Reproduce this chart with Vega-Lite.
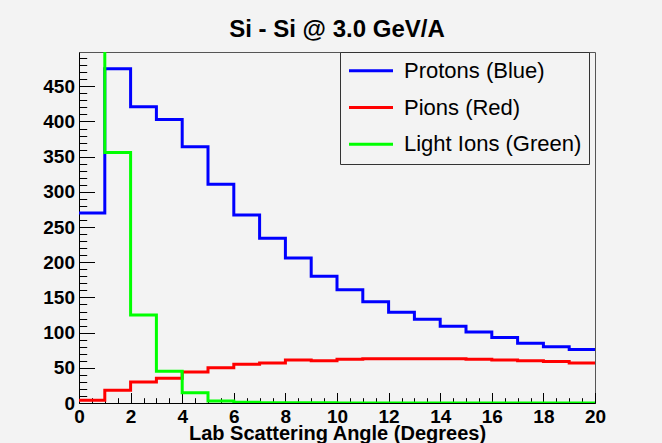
{
  "$schema": "https://vega.github.io/schema/vega-lite/v6.json",
  "width": 516,
  "height": 351,
  "autosize": {"type": "none"},
  "padding": {"left": 79, "top": 52, "right": 67, "bottom": 40},
  "background": "#f3f3f3",
  "title": {
    "text": "Si - Si @ 3.0 GeV/A",
    "font": "Liberation Sans",
    "fontSize": 24,
    "fontWeight": "bold",
    "color": "black",
    "anchor": "middle",
    "offset": 7
  },
  "config": {
    "view": {"stroke": "#555555", "strokeWidth": 1, "fill": "#f3f3f3"}
  },
  "data": {
    "values": [
      {"angle": 0, "count": 270, "species": "Protons (Blue)"},
      {"angle": 1, "count": 475, "species": "Protons (Blue)"},
      {"angle": 2, "count": 421, "species": "Protons (Blue)"},
      {"angle": 3, "count": 403, "species": "Protons (Blue)"},
      {"angle": 4, "count": 364, "species": "Protons (Blue)"},
      {"angle": 5, "count": 311, "species": "Protons (Blue)"},
      {"angle": 6, "count": 267, "species": "Protons (Blue)"},
      {"angle": 7, "count": 234, "species": "Protons (Blue)"},
      {"angle": 8, "count": 206, "species": "Protons (Blue)"},
      {"angle": 9, "count": 180, "species": "Protons (Blue)"},
      {"angle": 10, "count": 161, "species": "Protons (Blue)"},
      {"angle": 11, "count": 144, "species": "Protons (Blue)"},
      {"angle": 12, "count": 129, "species": "Protons (Blue)"},
      {"angle": 13, "count": 119, "species": "Protons (Blue)"},
      {"angle": 14, "count": 109, "species": "Protons (Blue)"},
      {"angle": 15, "count": 101, "species": "Protons (Blue)"},
      {"angle": 16, "count": 93, "species": "Protons (Blue)"},
      {"angle": 17, "count": 85, "species": "Protons (Blue)"},
      {"angle": 18, "count": 80, "species": "Protons (Blue)"},
      {"angle": 19, "count": 76, "species": "Protons (Blue)"},
      {"angle": 20, "count": 76, "species": "Protons (Blue)"},
      {"angle": 0, "count": 4, "species": "Pions (Red)"},
      {"angle": 1, "count": 18, "species": "Pions (Red)"},
      {"angle": 2, "count": 30, "species": "Pions (Red)"},
      {"angle": 3, "count": 35, "species": "Pions (Red)"},
      {"angle": 4, "count": 44, "species": "Pions (Red)"},
      {"angle": 5, "count": 50, "species": "Pions (Red)"},
      {"angle": 6, "count": 55, "species": "Pions (Red)"},
      {"angle": 7, "count": 57, "species": "Pions (Red)"},
      {"angle": 8, "count": 61, "species": "Pions (Red)"},
      {"angle": 9, "count": 60, "species": "Pions (Red)"},
      {"angle": 10, "count": 62, "species": "Pions (Red)"},
      {"angle": 11, "count": 63, "species": "Pions (Red)"},
      {"angle": 12, "count": 63, "species": "Pions (Red)"},
      {"angle": 13, "count": 63, "species": "Pions (Red)"},
      {"angle": 14, "count": 63, "species": "Pions (Red)"},
      {"angle": 15, "count": 62, "species": "Pions (Red)"},
      {"angle": 16, "count": 61, "species": "Pions (Red)"},
      {"angle": 17, "count": 60, "species": "Pions (Red)"},
      {"angle": 18, "count": 59, "species": "Pions (Red)"},
      {"angle": 19, "count": 57, "species": "Pions (Red)"},
      {"angle": 20, "count": 57, "species": "Pions (Red)"},
      {"angle": 0, "count": 1300, "species": "Light Ions (Green)"},
      {"angle": 1, "count": 356, "species": "Light Ions (Green)"},
      {"angle": 2, "count": 125, "species": "Light Ions (Green)"},
      {"angle": 3, "count": 45, "species": "Light Ions (Green)"},
      {"angle": 4, "count": 14.6, "species": "Light Ions (Green)"},
      {"angle": 5, "count": 2.7, "species": "Light Ions (Green)"},
      {"angle": 6, "count": 1, "species": "Light Ions (Green)"},
      {"angle": 7, "count": 0.5, "species": "Light Ions (Green)"},
      {"angle": 8, "count": 0.3, "species": "Light Ions (Green)"},
      {"angle": 9, "count": 0.2, "species": "Light Ions (Green)"},
      {"angle": 10, "count": 0.1, "species": "Light Ions (Green)"},
      {"angle": 11, "count": 0, "species": "Light Ions (Green)"},
      {"angle": 12, "count": 0, "species": "Light Ions (Green)"},
      {"angle": 13, "count": 0, "species": "Light Ions (Green)"},
      {"angle": 14, "count": 0, "species": "Light Ions (Green)"},
      {"angle": 15, "count": 0, "species": "Light Ions (Green)"},
      {"angle": 16, "count": 0, "species": "Light Ions (Green)"},
      {"angle": 17, "count": 0, "species": "Light Ions (Green)"},
      {"angle": 18, "count": 0, "species": "Light Ions (Green)"},
      {"angle": 19, "count": 0, "species": "Light Ions (Green)"},
      {"angle": 20, "count": 0, "species": "Light Ions (Green)"}
    ]
  },
  "mark": {"type": "line", "interpolate": "step-after", "strokeWidth": 3, "clip": true},
  "encoding": {
    "x": {
      "field": "angle",
      "type": "quantitative",
      "scale": {"domain": [0, 20], "nice": false, "zero": false},
      "axis": {
        "title": "Lab Scattering Angle (Degrees)",
        "titleFont": "Liberation Sans",
        "titleFontSize": 20,
        "titleFontWeight": "bold",
        "titleColor": "black",
        "titlePadding": -3,
        "values": [0, 0.5, 1, 1.5, 2, 2.5, 3, 3.5, 4, 4.5, 5, 5.5, 6, 6.5, 7, 7.5, 8, 8.5, 9, 9.5, 10, 10.5, 11, 11.5, 12, 12.5, 13, 13.5, 14, 14.5, 15, 15.5, 16, 16.5, 17, 17.5, 18, 18.5, 19, 19.5, 20],
        "labelExpr": "datum.value % 2 === 0 ? format(datum.value, 'd') : ''",
        "labelFont": "Liberation Sans",
        "labelFontSize": 19,
        "labelFontWeight": "bold",
        "labelColor": "black",
        "labelFlush": false,
        "labelOverlap": false,
        "labelPadding": 15,
        "tickSize": -10.5,
        "tickDash": {"condition": {"test": "datum.value % 2 === 0", "value": [20, 0]}, "value": [5.3, 30]},
        "tickColor": "black",
        "tickWidth": 1,
        "domainColor": "black",
        "grid": false
      }
    },
    "y": {
      "field": "count",
      "type": "quantitative",
      "scale": {"domain": [0, 498.75], "nice": false, "zero": true},
      "axis": {
        "title": null,
        "values": [0, 10, 20, 30, 40, 50, 60, 70, 80, 90, 100, 110, 120, 130, 140, 150, 160, 170, 180, 190, 200, 210, 220, 230, 240, 250, 260, 270, 280, 290, 300, 310, 320, 330, 340, 350, 360, 370, 380, 390, 400, 410, 420, 430, 440, 450, 460, 470, 480, 490],
        "labelExpr": "datum.value % 50 === 0 ? format(datum.value, 'd') : ''",
        "labelFont": "Liberation Sans",
        "labelFontSize": 19,
        "labelFontWeight": "bold",
        "labelColor": "black",
        "labelFlush": false,
        "labelOverlap": false,
        "labelPadding": 20,
        "tickSize": -15.5,
        "tickDash": {"condition": {"test": "datum.value % 50 === 0", "value": [20, 0]}, "value": [7.7, 40]},
        "tickColor": "black",
        "tickWidth": 1,
        "domainColor": "black",
        "grid": false
      }
    },
    "color": {
      "field": "species",
      "type": "nominal",
      "scale": {
        "domain": ["Protons (Blue)", "Pions (Red)", "Light Ions (Green)"],
        "range": ["#0000ff", "#ff0000", "#00ff00"]
      },
      "legend": {
        "title": null,
        "orient": "none",
        "legendX": 261,
        "legendY": 0,
        "symbolType": "stroke",
        "symbolSize": 1936,
        "symbolStrokeWidth": 3,
        "labelFont": "Liberation Sans",
        "labelFontSize": 22,
        "labelColor": "black",
        "labelOffset": 9.5,
        "labelLimit": 400,
        "padding": 7.5,
        "clipHeight": 22.5,
        "rowPadding": 13.8,
        "strokeColor": "#333333",
        "fillColor": "#f3f3f3"
      }
    }
  }
}
